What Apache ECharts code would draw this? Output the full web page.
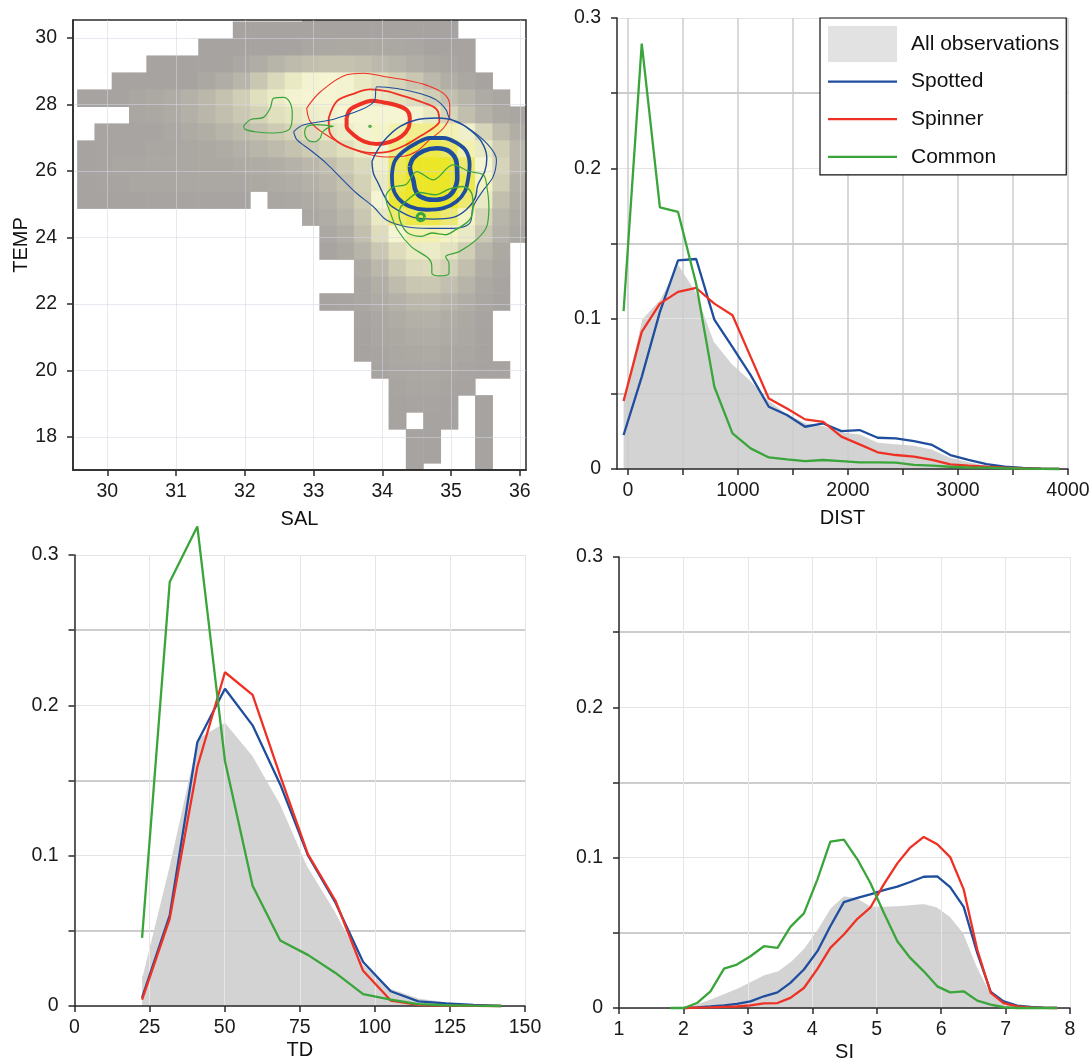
<!DOCTYPE html>
<html><head><meta charset="utf-8">
<script src="https://cdn.jsdelivr.net/npm/echarts@6/dist/echarts.min.js"></script>
<style>html,body{margin:0;padding:0;background:#fff}#chart{width:1089px;height:1061px}</style>
</head><body><div id="chart"></div>
<script>
// ---------- Panel A: SAL x TEMP density grid ----------
const SAL_BINS = [29.690, 29.942, 30.193, 30.445, 30.697, 30.948, 31.200, 31.452, 31.704, 31.955, 32.207, 32.459, 32.710, 32.962, 33.214, 33.466, 33.717, 33.969, 34.221, 34.472, 34.724, 34.976, 35.227, 35.479, 35.731, 35.982];
const TEMP_BINS = [30.742, 30.231, 29.720, 29.209, 28.698, 28.187, 27.676, 27.165, 26.654, 26.143, 25.632, 25.121, 24.610, 24.099, 23.588, 23.077, 22.566, 22.055, 21.544, 21.033, 20.522, 20.011, 19.500, 18.989, 18.478, 17.967, 17.456, 16.945];
const BIN_W = 0.2517, BIN_H = 0.511;
const DENSITY = [
 [0,0,0,0,0,0,0,0,0,0,0,0,0,1,1,1,1,1,1,1,1,1,0,0,0,0],
 [0,0,0,0,0,0,0,0,0,1,1,1,1,1,1,1,1,1,1,1,1,1,0,0,0,0],
 [0,0,0,0,0,0,0,1,1,1,1,1,1,1.2,1.3,1.4,1.4,1.4,1.3,1.2,1,1,1,0,0,0],
 [0,0,0,0,1,1,1,1,1,1.3,1.7,2.2,2.7,3,3.2,3.2,3,2.6,2.2,1.8,1.4,1.2,1,0,0,0],
 [0,0,1,1,1,1,1,1.3,1.7,2.3,3.5,4.8,6,6.8,7,6.8,6,5.2,4.4,3.5,2.6,1.8,1.3,1,0,0],
 [1,1,1,1.2,1.4,1.6,2,2.5,3.2,4,5.2,6.2,6.8,7,7,6.8,6.5,6,5.5,5,4,3,2.2,1.5,1.2,0],
 [0,0,0,1.2,1.3,1.5,1.9,2.4,3,3.6,4.3,5.2,5.8,6.3,6.7,7,7,7,7,6.8,6,4.5,3,2,1.4,1.2],
 [0,1.1,1.1,1.1,1.1,1.3,1.5,1.8,2.2,2.7,3.2,3.8,4.4,5,5.8,6.3,6.8,7.3,8,8.5,8.5,8,6.5,4.5,2.8,1.8],
 [1,1.1,1.1,1.1,1.2,1.2,1.3,1.4,1.6,1.9,2.3,2.7,3.2,3.8,4.5,5.3,6.2,7,8.5,9.5,9.5,9.2,8,6,4,2.5],
 [1,1.1,1.2,1.2,1.3,1.3,1.3,1.4,1.4,1.5,1.6,1.8,2.1,2.5,3,3.8,4.8,6.5,9.3,10,10,10,9,7,4.5,2.5],
 [1,1.1,1.1,1.2,1.2,1.2,1.3,1.3,1.3,1.3,1.4,1.5,1.7,2,2.5,3.2,4.2,6,9.5,10,10,10,9.5,7.5,4,2],
 [1,1,1,1,1.1,1.1,1.1,1.1,1.1,1.1,0,1.2,1.3,1.5,2,2.8,4,7,9.8,10,10,10,9,6,3,1.8],
 [0,0,0,0,0,0,0,0,0,0,0,0,0,1.3,1.7,2.3,3.5,6,9,9.5,9.5,9,7.5,4.5,2.3,1.5],
 [0,0,0,0,0,0,0,0,0,0,0,0,0,0,1.3,1.8,3,5,7,8,8,7.5,6,3.5,2,1.3],
 [0,0,0,0,0,0,0,0,0,0,0,0,0,0,1.1,1.4,2.2,3.5,5,6,6.2,5.5,4,2.3,1.4,0],
 [0,0,0,0,0,0,0,0,0,0,0,0,0,0,0,0,1.5,2.5,3.8,4.8,5,4.2,3,1.8,1.2,0],
 [0,0,0,0,0,0,0,0,0,0,0,0,0,0,0,0,1.2,1.8,2.8,3.5,3.6,3,2.2,1.4,1.1,0],
 [0,0,0,0,0,0,0,0,0,0,0,0,0,0,1,1.1,1.2,1.5,2,2.5,2.6,2.2,1.7,1.2,1,0],
 [0,0,0,0,0,0,0,0,0,0,0,0,0,0,0,0,1.1,1.3,1.6,1.9,2,1.7,1.4,1.1,0,0],
 [0,0,0,0,0,0,0,0,0,0,0,0,0,0,0,0,1,1.2,1.4,1.6,1.7,1.5,1.3,1,0,0],
 [0,0,0,0,0,0,0,0,0,0,0,0,0,0,0,0,1,1.1,1.3,1.4,1.5,1.3,1.2,1,0,0],
 [0,0,0,0,0,0,0,0,0,0,0,0,0,0,0,0,0,1,1.2,1.3,1.3,1.2,1.1,1,1,0],
 [0,0,0,0,0,0,0,0,0,0,0,0,0,0,0,0,0,0,1.1,1.2,1.2,1.1,1,0,0,0],
 [0,0,0,0,0,0,0,0,0,0,0,0,0,0,0,0,0,0,1,1.1,1.1,1,0,1,0,0],
 [0,0,0,0,0,0,0,0,0,0,0,0,0,0,0,0,0,0,1,0,1,1,0,1,0,0],
 [0,0,0,0,0,0,0,0,0,0,0,0,0,0,0,0,0,0,0,1,1,0,0,1,0,0],
 [0,0,0,0,0,0,0,0,0,0,0,0,0,0,0,0,0,0,0,1,1,0,0,1,0,0],
 [0,0,0,0,0,0,0,0,0,0,0,0,0,0,0,0,0,0,0,1,0,0,0,1,0,0]
];
const SAL_TICKS = [30, 31, 32, 33, 34, 35, 36];
const TEMP_TICKS = [18, 20, 22, 24, 26, 28, 30];

// density contours (SAL, TEMP)
const RED_OUTER = [[32.90,27.89],[32.95,27.49],[33.14,27.14],[33.43,26.79],[33.73,26.54],[34.06,26.42],[34.31,26.44],[34.50,26.59],[34.69,26.94],[34.89,27.29],[34.98,27.69],[34.98,27.98],[34.89,28.33],[34.64,28.58],[34.35,28.73],[34.02,28.84],[33.73,28.94],[33.48,28.89],[33.10,28.38],[32.90,27.89]];
const RED_MID = [[33.22,27.59],[33.23,27.19],[33.34,26.89],[33.53,26.69],[33.82,26.54],[34.11,26.59],[34.35,26.79],[34.55,27.04],[34.74,27.29],[34.83,27.49],[34.79,27.85],[34.60,28.05],[34.31,28.25],[34.06,28.40],[33.82,28.45],[33.58,28.32],[33.34,28.10],[33.22,27.59]];
const RED_IN = [[33.48,27.59],[33.53,27.84],[33.68,28.01],[33.85,28.11],[34.02,28.06],[34.18,27.99],[34.35,27.84],[34.40,27.59],[34.38,27.29],[34.28,27.04],[34.11,26.87],[33.92,26.81],[33.73,26.89],[33.58,27.09],[33.48,27.34],[33.48,27.59]];
const BLUE_OUTER = [[32.71,27.18],[32.85,27.38],[33.24,27.53],[33.48,27.68],[33.68,27.83],[33.82,27.98],[33.89,28.13],[33.92,28.53],[34.21,28.48],[34.55,28.33],[34.79,28.13],[34.93,27.83],[34.98,27.58],[35.22,27.33],[35.52,26.83],[35.66,26.33],[35.61,25.82],[35.47,25.42],[35.32,24.92],[35.27,24.42],[35.03,24.27],[34.69,24.27],[34.35,24.32],[34.06,24.52],[33.87,24.92],[33.63,25.32],[33.43,25.72],[33.19,26.22],[32.95,26.63],[32.76,26.93],[32.71,27.18]];
const BLUE_MID = [[33.85,26.29],[33.92,26.59],[34.06,26.99],[34.26,27.34],[34.50,27.54],[34.79,27.59],[35.08,27.49],[35.27,27.24],[35.44,26.89],[35.52,26.39],[35.49,25.98],[35.39,25.58],[35.35,25.18],[35.22,24.83],[35.03,24.60],[34.74,24.55],[34.45,24.60],[34.26,24.78],[34.11,24.98],[34.02,25.28],[33.94,25.63],[33.87,25.93],[33.85,26.29]];
const BLUE_THICK = [[34.14,25.88],[34.18,26.29],[34.31,26.59],[34.50,26.84],[34.69,26.99],[34.89,26.99],[35.08,26.84],[35.22,26.59],[35.27,26.18],[35.25,25.78],[35.20,25.38],[35.08,25.08],[34.89,24.88],[34.64,24.83],[34.40,24.93],[34.23,25.18],[34.15,25.53],[34.14,25.88]];
const BLUE_IN = [[34.40,26.13],[34.45,26.38],[34.60,26.60],[34.79,26.68],[34.98,26.58],[35.08,26.25],[35.09,25.78],[35.03,25.38],[34.91,25.18],[34.74,25.13],[34.55,25.23],[34.48,25.43],[34.45,25.73],[34.41,25.98],[34.40,26.13]];
const GREEN_LEFT = [[31.98,27.34],[32.08,27.54],[32.27,27.61],[32.37,27.89],[32.42,28.19],[32.56,28.21],[32.66,28.04],[32.69,27.69],[32.66,27.29],[32.56,27.17],[32.37,27.14],[32.18,27.17],[32.01,27.24],[31.98,27.34]];
const GREEN_SMALL = [[33.29,27.34],[33.05,27.39],[32.91,27.34],[32.87,27.14],[32.91,26.94],[33.00,26.87],[33.09,26.97],[33.13,27.17],[33.22,27.31],[33.29,27.34]];
const GREEN_DOT = [[33.80,27.34],[33.82,27.37],[33.84,27.34],[33.82,27.31],[33.80,27.34]];
const GREEN_IN = [[34.27,24.93],[34.37,25.13],[34.54,25.35],[34.77,25.28],[34.97,25.45],[35.17,25.53],[35.30,25.33],[35.32,24.93],[35.27,24.53],[35.07,24.23],[34.92,24.08],[34.72,24.13],[34.57,24.03],[34.37,24.13],[34.27,24.43],[34.24,24.73],[34.27,24.93]];
const GREEN_OUT = [[34.12,24.73],[34.22,24.23],[34.42,23.72],[34.67,23.37],[34.72,23.12],[34.72,22.92],[34.82,22.84],[34.97,22.92],[34.97,23.22],[34.92,23.42],[35.12,23.57],[35.37,23.93],[35.52,24.33],[35.55,24.93],[35.52,25.53],[35.47,25.88],[35.27,25.98],[35.03,26.18],[34.74,25.73],[34.50,25.98],[34.35,25.60],[34.15,25.50],[34.05,25.20],[34.12,24.73]];
const GREEN_RING = [[34.615,24.61],[34.599,24.688],[34.56,24.72],[34.521,24.688],[34.505,24.61],[34.521,24.532],[34.56,24.50],[34.599,24.532],[34.615,24.61]];

// ---------- Panel B: DIST ----------
const DIST_X = [-40, 125, 290, 455, 620, 785, 950, 1115, 1280, 1445, 1610, 1775, 1940, 2105, 2270, 2435, 2600, 2765, 2930, 3095, 3260, 3425, 3590, 3755, 3920];
const DIST_ALL = [0.048, 0.100, 0.113, 0.137, 0.118, 0.085, 0.070, 0.059, 0.046, 0.037, 0.031, 0.029, 0.025, 0.0235, 0.018, 0.017, 0.016, 0.0135, 0.008, 0.005, 0.0027, 0.0015, 0.0007, 0.0003, 0.0001];
const DIST_SPOTTED = [0.0226, 0.0613, 0.1045, 0.1388, 0.1397, 0.0994, 0.081, 0.0624, 0.0414, 0.0359, 0.0281, 0.0303, 0.0252, 0.0259, 0.0208, 0.0204, 0.0186, 0.016, 0.0093, 0.006, 0.0033, 0.0015, 0.0007, 0.0003, 0.0001];
const DIST_SPINNER = [0.0452, 0.0912, 0.110, 0.1178, 0.1204, 0.110, 0.1023, 0.0746, 0.0469, 0.0403, 0.033, 0.0314, 0.0215, 0.0164, 0.0111, 0.0093, 0.0082, 0.006, 0.0031, 0.0022, 0.0015, 0.0009, 0.0004, 0.0002, 0.0001];
const DIST_COMMON = [0.105, 0.283, 0.174, 0.171, 0.123, 0.0547, 0.0237, 0.0137, 0.0077, 0.0064, 0.0053, 0.006, 0.0053, 0.0044, 0.0044, 0.0042, 0.0027, 0.0022, 0.0015, 0.001, 0.0009, 0.0005, 0.0003, 0.0001, 0];
const DIST_TICKS = [0, 500, 1000, 1500, 2000, 2500, 3000, 3500, 4000];
const DIST_LABELS = [0, 1000, 2000, 3000, 4000];

// ---------- Panel C: TD ----------
const TD_X = [22.5, 31.7, 40.9, 50.1, 59.3, 68.5, 77.7, 86.9, 96.1, 105.3, 114.5, 123.7, 132.9, 142.1];
const TD_ALL = [0.02, 0.095, 0.178, 0.189, 0.167, 0.135, 0.093, 0.063, 0.028, 0.012, 0.0055, 0.003, 0.0012, 0.0002];
const TD_SPOTTED = [0.0055, 0.0603, 0.1755, 0.211, 0.1867, 0.1474, 0.1004, 0.0687, 0.0293, 0.0098, 0.0031, 0.0017, 0.0007, 0.0001];
const TD_SPINNER = [0.0043, 0.058, 0.159, 0.222, 0.207, 0.153, 0.101, 0.070, 0.0234, 0.0036, 0.0007, 0.0003, 0.0001, 0];
const TD_COMMON = [0.0453, 0.282, 0.319, 0.163, 0.080, 0.0436, 0.034, 0.022, 0.0079, 0.0043, 0.0012, 0.0005, 0.0002, 0];

// ---------- Panel D: SI ----------
const SI_X = [1.80, 2.01, 2.21, 2.42, 2.63, 2.83, 3.04, 3.25, 3.46, 3.66, 3.87, 4.08, 4.28, 4.49, 4.70, 4.90, 5.11, 5.32, 5.52, 5.73, 5.94, 6.14, 6.35, 6.56, 6.77, 6.97, 7.18, 7.39, 7.59, 7.80];
const SI_ALL = [null, 0, 0.003, 0.0062, 0.0098, 0.0133, 0.0178, 0.0222, 0.0247, 0.031, 0.040, 0.0527, 0.0667, 0.0749, 0.0733, 0.0682, 0.0678, 0.0682, 0.0689, 0.0696, 0.0673, 0.0611, 0.050, 0.0278, 0.010, 0.0038, 0.0011, 0.0003, 0.0001, 0];
const SI_SPOTTED = [null, 0, 0.0004, 0.001, 0.0018, 0.0027, 0.0044, 0.0078, 0.0104, 0.0167, 0.0256, 0.0378, 0.0544, 0.0704, 0.0733, 0.0756, 0.0784, 0.0807, 0.0838, 0.0873, 0.0876, 0.0804, 0.0673, 0.0367, 0.0107, 0.0044, 0.0016, 0.0007, 0.0003, 0.0001];
const SI_SPINNER = [null, 0, 0.0002, 0.0004, 0.0007, 0.001, 0.0018, 0.0031, 0.0033, 0.0067, 0.0133, 0.026, 0.040, 0.0489, 0.0593, 0.0667, 0.0822, 0.0962, 0.1067, 0.1138, 0.1089, 0.1004, 0.0789, 0.0389, 0.010, 0.0033, 0.0011, 0.0004, 0.0001, 0];
const SI_COMMON = [0, 0, 0.0033, 0.0111, 0.0262, 0.0289, 0.0344, 0.0411, 0.040, 0.054, 0.0629, 0.0856, 0.1107, 0.112, 0.0989, 0.0833, 0.0633, 0.0444, 0.0333, 0.0244, 0.0144, 0.0104, 0.0111, 0.0049, 0.0022, 0.0005, 0, 0, 0, 0];

// ---------- styling ----------
const FONT = "'Liberation Sans', Arial, Helvetica, sans-serif";
const C_BLUE = '#1f4e9e', C_RED = '#ee3124', C_GREEN = '#3aa53a', C_AREA = '#d3d3d3';
const AX = '#2a2a2a';
// legend line icon: a 69x36 box with a thin bar through its middle
const LINE_ICON = 'path://M0,0L0.01,0L0,0.01Z M68.99,36L69,36L69,35.99Z M0,16.85L69,16.85L69,19.15L0,19.15Z';

const chart = echarts.init(document.getElementById('chart'), null, {renderer: 'canvas'});

const heatData = [];
DENSITY.forEach((row, r) => row.forEach((v, c) => { if (v > 0) heatData.push([SAL_BINS[c], TEMP_BINS[r], v]); }));

function renderCell(params, api) {
  const x = api.value(0), y = api.value(1);
  const a = api.coord([x - BIN_W / 2, y + BIN_H / 2]);
  const b = api.coord([x + BIN_W / 2, y - BIN_H / 2]);
  const cs = params.coordSys;
  const shape = echarts.graphic.clipRectByRect(
    {x: a[0] - 0.3, y: a[1] - 0.3, width: b[0] - a[0] + 0.6, height: b[1] - a[1] + 0.6},
    {x: cs.x, y: cs.y, width: cs.width, height: cs.height});
  if (!shape) return null;
  return {type: 'rect', shape: shape, style: {fill: api.visual('color')}};
}

function contour(name, pts, color, width) {
  return {type: 'line', name: name, xAxisIndex: 0, yAxisIndex: 0, data: pts, symbol: 'none',
    smooth: 0.35, lineStyle: {color: color, width: width}, itemStyle: {color: color}, z: 3, silent: true};
}
function pairs(xs, ys) { return xs.map((x, i) => [x, ys[i]]); }
function curve(name, color, xs, ys, g) {
  return {type: 'line', name: name, xAxisIndex: g, yAxisIndex: g, data: pairs(xs, ys), symbol: 'none',
    lineStyle: {color: color, width: 2.3}, itemStyle: {color: color}, clip: false, z: 3};
}
function area(xs, ys, g) {
  return {type: 'line', name: 'All observations', xAxisIndex: g, yAxisIndex: g, data: pairs(xs, ys), symbol: 'none',
    lineStyle: {color: '#ffffff', width: 1.5}, areaStyle: {color: C_AREA, opacity: 1}, itemStyle: {color: C_AREA}, z: -1};
}

const fmt = v => String(Math.round(v * 1000) / 1000);
const tickStyle = {show: true, inside: false, length: 6, lineStyle: {color: AX, width: 1.5}};
const lineStyleAx = {show: true, onZero: false, lineStyle: {color: AX, width: 1.5}};
const labelX = {fontSize: 19.5, color: '#1a1a1a', fontFamily: FONT, margin: 12, formatter: fmt};
const labelY = {fontSize: 19.5, color: '#1a1a1a', fontFamily: FONT, margin: 16, formatter: fmt};
const nameStyle = {fontSize: 20, color: '#111', fontFamily: FONT};

function probY(g) {
  return {type: 'value', gridIndex: g, min: 0, max: 0.3, interval: 0.1,
    axisLine: lineStyleAx, axisTick: tickStyle, axisLabel: labelY,
    minorTick: {show: true, splitNumber: 2, length: 6, lineStyle: {color: AX, width: 1.5}},
    splitLine: {show: true, lineStyle: {color: '#e4e4e4', width: 1}},
    minorSplitLine: {show: true, lineStyle: {color: '#cdcdcd', width: 2}}};
}

const option = {
  animation: false,
  backgroundColor: '#ffffff',
  textStyle: {fontFamily: FONT},
  grid: [
    {left: 73, top: 20, width: 453, height: 450, show: true, borderColor: AX, borderWidth: 1.5, backgroundColor: 'transparent', outerBoundsMode: 'none'},
    {left: 617, top: 18, width: 451, height: 451, outerBoundsMode: 'none'},
    {left: 74.5, top: 555, width: 450.5, height: 451, outerBoundsMode: 'none'},
    {left: 619, top: 557, width: 451, height: 451, outerBoundsMode: 'none'}
  ],
  xAxis: [
    {type: 'value', gridIndex: 0, min: 29.5, max: 36.09, name: 'SAL', nameLocation: 'middle', nameGap: 39, nameTextStyle: nameStyle,
      axisLine: lineStyleAx, axisTick: Object.assign({}, tickStyle, {customValues: SAL_TICKS}),
      axisLabel: Object.assign({}, labelX, {customValues: SAL_TICKS}),
      splitLine: {show: true, lineStyle: {color: 'rgba(214,214,228,0.55)', width: 1}}},
    {type: 'value', gridIndex: 1, min: -100, max: 4000, name: 'DIST', nameLocation: 'middle', nameGap: 39, nameTextStyle: nameStyle,
      axisLine: lineStyleAx, axisTick: Object.assign({}, tickStyle, {customValues: DIST_TICKS}),
      axisLabel: Object.assign({}, labelX, {customValues: DIST_LABELS}),
      splitLine: {show: true, lineStyle: {color: '#cccccc', width: 1.5}}},
    {type: 'value', gridIndex: 2, min: 0, max: 150, interval: 25, name: 'TD', nameLocation: 'middle', nameGap: 34, nameTextStyle: nameStyle,
      axisLine: lineStyleAx, axisTick: tickStyle, axisLabel: labelX,
      splitLine: {show: true, lineStyle: {color: '#e6e6e6', width: 1}}},
    {type: 'value', gridIndex: 3, min: 1, max: 8, interval: 1, name: 'SI', nameLocation: 'middle', nameGap: 34, nameTextStyle: nameStyle,
      axisLine: lineStyleAx, axisTick: tickStyle, axisLabel: labelX,
      splitLine: {show: true, lineStyle: {color: '#e6e6e6', width: 1}}}
  ],
  yAxis: [
    {type: 'value', gridIndex: 0, min: 17, max: 30.54, name: 'TEMP', nameLocation: 'middle', nameRotate: 90, nameGap: 42, nameTextStyle: nameStyle,
      axisLine: lineStyleAx, axisTick: Object.assign({}, tickStyle, {customValues: TEMP_TICKS}),
      axisLabel: Object.assign({}, labelY, {customValues: TEMP_TICKS}),
      splitLine: {show: true, lineStyle: {color: 'rgba(214,214,228,0.55)', width: 1}}},
    probY(1), probY(2), probY(3)
  ],
  visualMap: {show: false, type: 'continuous', seriesIndex: 0, dimension: 2, min: 1, max: 10,
    inRange: {color: ['#a7a3a0', '#b4b1a8', '#c2bfae', '#d0ceb5', '#dedcbc', '#e9e9c4', '#f5f5d4', '#f3f1b0', '#eeea70', '#ebe628']}},
  legend: {orient: 'vertical', left: 820, top: 18, itemWidth: 69, itemHeight: 36, itemGap: 1.6,
    padding: [8, 7, 0, 8], borderColor: '#111', borderWidth: 1.2, backgroundColor: '#ffffff', selectedMode: false,
    textStyle: {fontSize: 21, color: '#111', fontFamily: FONT, padding: [0, 0, 0, 9]},
    data: [
      {name: 'All observations', icon: 'rect', itemStyle: {color: '#e2e2e2'}},
      {name: 'Spotted', icon: LINE_ICON},
      {name: 'Spinner', icon: LINE_ICON},
      {name: 'Common', icon: LINE_ICON}
    ]},
  series: [
    {type: 'custom', name: 'density', xAxisIndex: 0, yAxisIndex: 0, data: heatData, renderItem: renderCell,
      encode: {x: 0, y: 1}, dimensions: ['SAL', 'TEMP', 'density'], z: -1, silent: true},
    contour('Spinner contour', RED_OUTER, C_RED, 1.1),
    contour('Spinner contour', RED_MID, C_RED, 1.8),
    contour('Spinner contour', RED_IN, C_RED, 4),
    contour('Spotted contour', BLUE_OUTER, C_BLUE, 1.1),
    contour('Spotted contour', BLUE_MID, C_BLUE, 1.4),
    contour('Spotted contour', BLUE_THICK, C_BLUE, 3.8),
    contour('Spotted contour', BLUE_IN, C_BLUE, 4.6),
    contour('Common contour', GREEN_LEFT, C_GREEN, 1.2),
    contour('Common contour', GREEN_SMALL, C_GREEN, 1.2),
    contour('Common contour', GREEN_DOT, C_GREEN, 1.2),
    contour('Common contour', GREEN_IN, C_GREEN, 1.4),
    contour('Common contour', GREEN_OUT, C_GREEN, 1.2),
    contour('Common contour', GREEN_RING, C_GREEN, 3),
    area(DIST_X, DIST_ALL, 1),
    curve('Spotted', C_BLUE, DIST_X, DIST_SPOTTED, 1),
    curve('Spinner', C_RED, DIST_X, DIST_SPINNER, 1),
    curve('Common', C_GREEN, DIST_X, DIST_COMMON, 1),
    area(TD_X, TD_ALL, 2),
    curve('Spotted', C_BLUE, TD_X, TD_SPOTTED, 2),
    curve('Spinner', C_RED, TD_X, TD_SPINNER, 2),
    curve('Common', C_GREEN, TD_X, TD_COMMON, 2),
    area(SI_X, SI_ALL, 3),
    curve('Spotted', C_BLUE, SI_X, SI_SPOTTED, 3),
    curve('Spinner', C_RED, SI_X, SI_SPINNER, 3),
    curve('Common', C_GREEN, SI_X, SI_COMMON, 3)
  ]
};
chart.setOption(option);
</script></body></html>
